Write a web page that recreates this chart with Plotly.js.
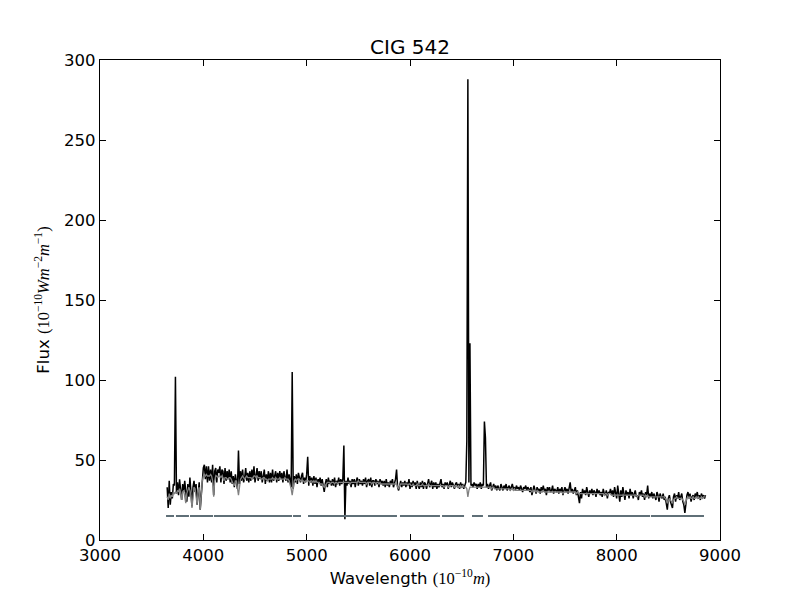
<!DOCTYPE html>
<html>
<head>
<meta charset="utf-8">
<script src="https://cdn.plot.ly/plotly-3.0.1.min.js"></script>
<style>
  body { margin: 0; background: #fff; }
  #spectrum { width: 800px; height: 600px; }
</style>
</head>
<body>
<div id="spectrum"></div>
<script>
// wavelength grid of the spectrum (Angstrom)
var WAVE_START = 3650;
var WAVE_STEP = 10;

// observed flux, one value per grid step, rows of 100 A starting at 3650
var fluxObserved = [
  33, 20, 37, 22, 30, 26, 35, 34, 102, 29,
  36, 28, 38, 33, 25, 35, 30, 37, 29, 24,
  35, 27, 39, 32, 21, 33, 37, 30, 35, 22,
  31, 36, 19, 30, 39, 45, 47, 38, 46, 36,
  46, 37, 44, 36, 47, 28, 43, 45, 36, 44,
  42, 46, 36, 44, 43, 35, 45, 37, 43, 38,
  44, 36, 43, 35, 40, 33, 41, 36, 32, 56,
  35, 43, 37, 44, 36, 39, 45, 37, 42, 36,
  43, 37, 44, 38, 46, 36, 42, 45, 37, 43,
  38, 43, 36, 42, 44, 35, 41, 37, 43, 36,
  42, 36, 44, 37, 41, 43, 36, 42, 37, 43,
  38, 42, 36, 43, 39, 37, 44, 36, 41, 38,
  33, 105, 32, 40, 36, 41, 35, 42, 38, 36,
  40, 42, 35, 39, 36, 41, 52, 34, 40, 36,
  39, 34, 40, 35, 39, 33, 38, 36, 39, 34,
  38, 33, 30, 35, 38, 33, 39, 35, 37, 34,
  38, 34, 39, 33, 37, 35, 39, 34, 38, 35,
  38, 59, 13, 37, 34, 39, 35, 37, 33, 38,
  35, 38, 33, 37, 39, 34, 38, 35, 37, 34,
  38, 35, 39, 33, 37, 38, 34, 39, 33, 37,
  37, 34, 38, 35, 37, 33, 38, 35, 37, 34,
  37, 33, 38, 34, 36, 33, 37, 35, 38, 33,
  36, 38, 44, 33, 31, 35, 37, 33, 36, 34,
  37, 33, 36, 34, 38, 32, 36, 33, 37, 34,
  36, 32, 37, 34, 32, 36, 33, 37, 32, 36,
  35, 32, 36, 38, 33, 35, 37, 32, 36, 33,
  36, 32, 35, 33, 36, 38, 33, 35, 32, 36,
  34, 36, 32, 35, 37, 33, 36, 34, 32, 35,
  36, 33, 35, 32, 36, 33, 35, 32, 34, 36,
  62, 288, 36, 123, 34, 35, 33, 36, 34, 35,
  32, 35, 33, 36, 32, 35, 34, 74, 64, 33,
  35, 32, 34, 36, 31, 34, 35, 32, 34, 31,
  34, 32, 31, 35, 32, 31, 34, 32, 35, 31,
  33, 34, 31, 33, 35, 32, 33, 31, 34, 32,
  33, 31, 34, 32, 30, 33, 32, 34, 31, 33,
  32, 30, 33, 28, 32, 34, 31, 29, 33, 31,
  32, 29, 33, 31, 34, 30, 32, 28, 33, 31,
  33, 30, 31, 34, 29, 32, 31, 30, 33, 29,
  32, 30, 33, 28, 31, 33, 30, 32, 29, 34,
  36, 30, 32, 29, 31, 33, 28, 31, 27, 23,
  30, 26, 32, 29, 31, 28, 33, 30, 27, 31,
  29, 32, 28, 31, 30, 27, 32, 29, 31, 28,
  30, 27, 32, 29, 28, 31, 26, 30, 29, 32,
  28, 31, 27, 33, 29, 26, 34, 28, 24, 31,
  27, 33, 29, 25, 31, 28, 30, 26, 32, 28,
  30, 26, 29, 31, 27, 28, 25, 30, 28, 31,
  27, 29, 25, 30, 28, 34, 26, 29, 27, 30,
  26, 29, 27, 25, 30, 28, 24, 29, 27, 26,
  29, 25, 27, 21, 19, 26, 28, 24, 22, 20,
  27, 29, 24, 28, 26, 30, 25, 27, 29, 24,
  22, 17, 25, 28, 30, 26, 29, 24, 27, 28,
  25, 29, 27, 30, 26, 28, 25, 29, 27, 28,
  26, 28
];

// fitted model flux on the same grid
var fluxModel = [
  27, 25, 29, 26, 28, 27, 30, 29, 30, 29,
  31, 30, 32, 30, 25, 30, 31, 28, 23, 29,
  32, 33, 31, 28, 20, 30, 33, 32, 25, 22,
  31, 33, 19, 33, 37, 40, 41, 40, 41, 40,
  40, 40, 41, 40, 37, 27, 37, 40, 40, 39,
  40, 40, 39, 40, 39, 37, 39, 39, 38, 38,
  39, 39, 38, 36, 35, 34, 37, 37, 32, 28,
  33, 38, 39, 40, 39, 38, 39, 40, 39, 39,
  39, 39, 38, 39, 40, 40, 39, 40, 39, 39,
  39, 38, 38, 39, 39, 38, 38, 37, 38, 38,
  38, 38, 39, 38, 38, 39, 38, 38, 38, 39,
  38, 38, 38, 38, 39, 38, 38, 38, 37, 35,
  32, 28, 33, 37, 38, 37, 38, 38, 38, 37,
  37, 37, 37, 36, 37, 37, 37, 37, 36, 37,
  37, 36, 37, 36, 37, 36, 36, 36, 35, 35,
  35, 34, 33, 34, 35, 36, 36, 36, 35, 36,
  36, 36, 35, 36, 36, 35, 36, 36, 36, 36,
  36, 36, 36, 36, 36, 36, 36, 35, 36, 36,
  36, 36, 36, 36, 36, 37, 36, 36, 36, 36,
  36, 36, 36, 35, 36, 36, 36, 36, 35, 36,
  36, 36, 35, 36, 36, 35, 36, 35, 35, 35,
  35, 35, 35, 35, 35, 35, 35, 35, 35, 35,
  35, 35, 35, 33, 32, 34, 35, 35, 35, 35,
  35, 35, 35, 34, 35, 35, 34, 34, 35, 34,
  34, 34, 35, 34, 34, 34, 34, 35, 34, 34,
  34, 34, 34, 35, 34, 34, 34, 34, 34, 34,
  34, 34, 34, 34, 34, 34, 34, 34, 33, 34,
  34, 34, 33, 34, 34, 34, 34, 34, 33, 34,
  34, 33, 34, 33, 34, 33, 34, 33, 33, 33,
  32, 27, 31, 33, 33, 33, 33, 33, 33, 33,
  33, 33, 33, 33, 33, 33, 33, 33, 33, 33,
  33, 33, 33, 33, 32, 33, 33, 32, 32, 32,
  32, 32, 32, 32, 32, 32, 32, 32, 32, 32,
  32, 32, 31, 32, 32, 31, 32, 31, 31, 31,
  31, 31, 31, 31, 31, 31, 31, 31, 31, 31,
  31, 31, 31, 30, 31, 31, 31, 30, 31, 30,
  30, 30, 30, 30, 31, 30, 30, 30, 30, 30,
  30, 30, 30, 30, 30, 30, 30, 30, 30, 30,
  30, 30, 30, 29, 30, 30, 30, 30, 30, 30,
  30, 30, 30, 30, 30, 30, 29, 30, 29, 29,
  29, 29, 29, 29, 29, 29, 29, 29, 29, 29,
  29, 29, 29, 29, 29, 29, 29, 29, 29, 29,
  29, 29, 29, 28, 29, 29, 28, 29, 29, 29,
  28, 28, 28, 28, 28, 28, 28, 28, 28, 28,
  28, 28, 28, 28, 28, 28, 28, 28, 28, 28,
  28, 28, 28, 28, 28, 27, 28, 28, 28, 28,
  28, 28, 27, 28, 27, 28, 27, 27, 27, 27,
  27, 27, 27, 27, 27, 27, 27, 27, 27, 27,
  27, 27, 26, 25, 23, 25, 26, 25, 24, 23,
  25, 26, 26, 27, 26, 26, 26, 26, 26, 25,
  24, 22, 25, 26, 27, 26, 27, 26, 26, 27,
  26, 26, 27, 26, 27, 26, 26, 27, 26, 27,
  27, 27
];

// wavelength ranges used in the fit (drawn as the line at flux 15)
var maskStart = [3639, 3735, 3871, 4103, 4868, 5013, 5903, 6310, 6600, 6755, 8332];
var maskEnd   = [3716, 3861, 4094, 4858, 4945, 5874, 6290, 6523, 6706, 8323, 8845];
var MASK_LEVEL = 15;

var xTicks = [3000, 4000, 5000, 6000, 7000, 8000, 9000];
var yTicks = [0, 50, 100, 150, 200, 250, 300];

var wave = fluxObserved.map(function(_, i){ return WAVE_START + i * WAVE_STEP; });

// mask segments separated by gaps
var maskX = [], maskY = [];
for (var k = 0; k < maskStart.length; k++){
  maskX.push(maskStart[k], maskEnd[k], null);
  maskY.push(MASK_LEVEL, MASK_LEVEL, null);
}

var observedTrace = {
  x: wave, y: fluxObserved, type: 'scatter', mode: 'lines',
  line: {color: '#000000', width: 1.5}, hoverinfo: 'skip'
};
var modelTrace = {
  x: wave, y: fluxModel, type: 'scatter', mode: 'lines',
  line: {color: '#808080', width: 1.3}, hoverinfo: 'skip'
};
var maskTrace = {
  x: maskX, y: maskY, type: 'scatter', mode: 'lines',
  line: {color: '#5f6f77', width: 2}, hoverinfo: 'skip', connectgaps: false
};

var math = 'font-family:Liberation Serif,DejaVu Serif,serif';
var axisCommon = {
  showline: true, linecolor: '#000', linewidth: 1.2, mirror: 'ticks',
  ticks: 'inside', ticklen: 6, tickwidth: 1, tickcolor: '#000',
  showgrid: false, zeroline: false, tickmode: 'array',
  tickfont: {family: 'DejaVu Sans', size: 16.5, color: '#000'}
};

var layout = {
  width: 800, height: 600,
  margin: {l: 100, r: 80, t: 60, b: 60, pad: 0},
  paper_bgcolor: '#ffffff', plot_bgcolor: '#ffffff',
  showlegend: false,
  font: {family: 'DejaVu Sans', color: '#000'},
  title: {
    text: 'CIG 542', font: {family: 'DejaVu Sans', size: 20, color: '#000'},
    x: 0.5, xref: 'paper', xanchor: 'center', y: 0.922, yref: 'container', yanchor: 'middle'
  },
  xaxis: Object.assign({}, axisCommon, {
    range: [3000, 9000], tickvals: xTicks, ticktext: xTicks.map(String),
    title: {
      text: 'Wavelength <span style="' + math + '">(10<sup>\u221210</sup><i>m</i>)</span>',
      font: {family: 'DejaVu Sans', size: 16.5, color: '#000'}, standoff: 8
    }
  }),
  yaxis: Object.assign({}, axisCommon, {
    range: [0, 300], tickvals: yTicks, ticktext: yTicks.map(String),
    title: {
      text: 'Flux <span style="' + math + '">(10<sup>\u221210</sup><i>Wm</i><sup>\u22122</sup><i>m</i><sup>\u22121</sup>)</span>',
      font: {family: 'DejaVu Sans', size: 16.5, color: '#000'}, standoff: 10
    }
  })
};

Plotly.newPlot('spectrum', [observedTrace, modelTrace, maskTrace], layout, {displayModeBar: false, staticPlot: true});
</script>
</body>
</html>
